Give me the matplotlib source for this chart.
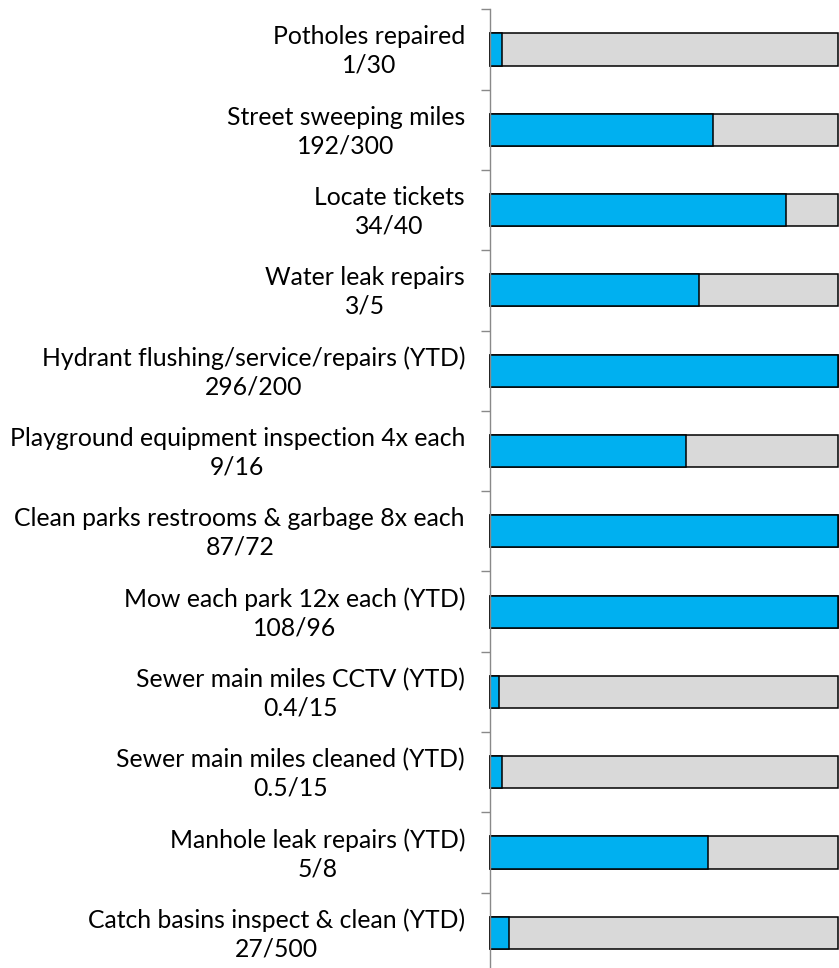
import numpy as np
import matplotlib.pyplot as plt
import matplotlib.transforms as mtransforms

# progress toward target, top to bottom
labels = [
    "Potholes repaired",
    "Street sweeping miles",
    "Locate tickets",
    "Water leak repairs",
    "Hydrant flushing/service/repairs (YTD)",
    "Playground equipment inspection 4x each",
    "Clean parks restrooms & garbage 8x each",
    "Mow each park 12x each (YTD)",
    "Sewer main miles CCTV (YTD)",
    "Sewer main miles cleaned (YTD)",
    "Manhole leak repairs (YTD)",
    "Catch basins inspect & clean (YTD)",
]
done = [1, 192, 34, 3, 296, 9, 87, 108, 0.4, 0.5, 5, 27]
target = [30, 300, 40, 5, 200, 16, 72, 96, 15, 15, 8, 500]

done_txt = ["1", "192", "34", "3", "296", "9", "87", "108", "0.4", "0.5", "5", "27"]
target_txt = ["30", "300", "40", "5", "200", "16", "72", "96", "15", "15", "8", "500"]

frac = np.minimum(np.array(done) / np.array(target), 1.0)
n = len(labels)
y = np.arange(n)
ticklabels = [f"{l}\n{d}/{t}" for l, d, t in zip(labels, done_txt, target_txt)]

plt.rcParams['font.family'] = ['Lato', 'DejaVu Sans']

fig = plt.figure(figsize=(8.39, 9.68), dpi=100)
ax = fig.add_axes([490 / 839, -5 / 968, 348 / 839, 963.7 / 968])

ax.barh(y, np.ones(n), height=0.4, color='#D9D9D9', edgecolor='black', linewidth=1.1, clip_on=False)
ax.barh(y, frac, height=0.4, color='#00B0F0', edgecolor='black', linewidth=1.1, clip_on=False)

ax.set_xlim(0, 1)
ax.set_ylim(n - 0.5, -0.5)
ax.set_xticks([])
ax.set_yticks(y)
ax.set_yticklabels(ticklabels, fontsize=17.8, multialignment='center', linespacing=1.28)
ax.tick_params(axis='y', which='major', length=0, pad=18)
ax.set_yticks(np.arange(n + 1) - 0.5, minor=True)
ax.tick_params(axis='y', which='minor', length=6.5, color='#898989', width=1)

# labels sit a little above the bar centre in the original
up = mtransforms.ScaledTranslation(0, 3 / 100, fig.dpi_scale_trans)
for t in ax.get_yticklabels():
    t.set_transform(t.get_transform() + up)

for s in ['top', 'right', 'bottom']:
    ax.spines[s].set_visible(False)
ax.spines['left'].set_color('#898989')
ax.spines['left'].set_linewidth(1)

fig.savefig('out.png', dpi=100)
